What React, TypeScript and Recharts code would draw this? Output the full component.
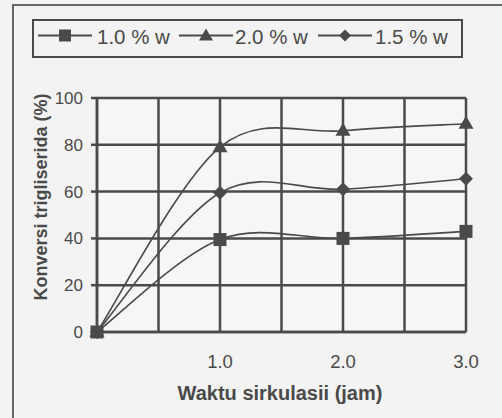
import React from 'react';
import { LineChart, Line, XAxis, YAxis, CartesianGrid, Legend, Label } from 'recharts';

const times = [0, 1, 2, 3];
const conv10 = [0, 39.5, 40, 43];
const conv20 = [0, 79, 86, 89];
const conv15 = [0, 59.5, 61, 65.5];
const seriesNames = ['1.0 % w', '2.0 % w', '1.5 % w'];
const xGridTicks = [0, 0.5, 1, 1.5, 2, 2.5, 3];
const xLabelTicks = [1, 2, 3];
const yTicks = [0, 20, 40, 60, 80, 100];

const data = times.map((t, i) => ({ t, a: conv10[i], b: conv20[i], c: conv15[i] }));

const INK = '#4a4a4a';
const FONT = '"Liberation Sans", Arial, sans-serif';

// Excel-like smoothed line (Catmull-Rom converted to Bezier)
function excelCurve(context: any) {
  let pts: number[][] = [];
  return {
    areaStart() {},
    areaEnd() {},
    lineStart() { pts = []; },
    point(x: number, y: number) { pts.push([+x, +y]); },
    lineEnd() {
      if (!pts.length) return;
      context.moveTo(pts[0][0], pts[0][1]);
      for (let i = 0; i < pts.length - 1; i++) {
        const p0 = pts[i - 1] || pts[i];
        const p1 = pts[i];
        const p2 = pts[i + 1];
        const p3 = pts[i + 2] || p2;
        context.bezierCurveTo(
          p1[0] + (p2[0] - p0[0]) / 6, p1[1] + (p2[1] - p0[1]) / 6,
          p2[0] - (p3[0] - p1[0]) / 6, p2[1] - (p3[1] - p1[1]) / 6,
          p2[0], p2[1]
        );
      }
    },
  };
}

const SquareDot = (p: any) => (
  <rect x={p.cx - 6.5} y={p.cy - 6.5} width={13} height={13} fill={INK} />
);
const TriDot = (p: any) => (
  <polygon points={`${p.cx},${p.cy - 8} ${p.cx - 7.5},${p.cy + 5} ${p.cx + 7.5},${p.cy + 5}`} fill={INK} />
);
const DiaDot = (p: any) => (
  <polygon points={`${p.cx},${p.cy - 7} ${p.cx + 7},${p.cy} ${p.cx},${p.cy + 7} ${p.cx - 7},${p.cy}`} fill={INK} />
);

const markers = [
  (cx: number, cy: number) => <rect x={cx - 6} y={cy - 6} width={12} height={12} fill={INK} />,
  (cx: number, cy: number) => <polygon points={`${cx},${cy - 7} ${cx - 7},${cy + 5} ${cx + 7},${cy + 5}`} fill={INK} />,
  (cx: number, cy: number) => <polygon points={`${cx},${cy - 6} ${cx + 6},${cy} ${cx},${cy + 6} ${cx - 6},${cy}`} fill={INK} />,
];
const legendLineX = [6, 147, 286];
const legendTextX = [65, 203, 343];

const LegendBox = () => (
  <svg width={431} height={39} style={{ display: 'block' }}>
    <rect x={1} y={1} width={429} height={37} fill="none" stroke={INK} strokeWidth={2} />
    {seriesNames.map((name, i) => {
      const x0 = legendLineX[i];
      return (
        <g key={name}>
          <line x1={x0} x2={x0 + 54} y1={16.5} y2={16.5} stroke={INK} strokeWidth={2} />
          {markers[i](x0 + 27, 16.5)}
          <text x={legendTextX[i]} y={17.5} dy="0.36em" fontSize={20.5} fill={INK} fontFamily={FONT}>{name}</text>
        </g>
      );
    })}
  </svg>
);

export default function App() {
  return (
    <div style={{ position: 'absolute', left: 0, top: 0, width: 502, height: 418, background: '#f3f3f3', overflow: 'hidden', fontFamily: FONT }}>
      <div style={{ position: 'absolute', left: 12, top: 4, width: 560, height: 500, border: `2px solid #666` }} />
      <div style={{ position: 'absolute', left: 0, top: 0 }}>
        <LineChart width={502} height={418} data={data} margin={{ top: 98, right: 36, left: 0, bottom: 0 }}>
          <CartesianGrid stroke={INK} strokeWidth={2.5} fill="#f6f6f6" />
          <XAxis
            dataKey="t"
            type="number"
            domain={[0, 3]}
            ticks={xGridTicks}
            height={86}
            tickSize={0}
            tickMargin={23}
            axisLine={{ stroke: INK, strokeWidth: 2.5 }}
            tick={{ fill: INK, fontSize: 18.5, fontFamily: FONT }}
            tickFormatter={(v: number) => (xLabelTicks.includes(v) ? v.toFixed(1) : '')}
          >
            <Label content={() => (
              <text x={280} y={400} textAnchor="middle" fontSize={20} fontWeight="bold" fill={INK} fontFamily={FONT}>Waktu sirkulasii (jam)</text>
            )} />
          </XAxis>
          <YAxis
            type="number"
            domain={[0, 100]}
            ticks={yTicks}
            width={97}
            tickSize={6}
            tickMargin={8}
            axisLine={{ stroke: INK, strokeWidth: 2.5 }}
            tickLine={{ stroke: INK, strokeWidth: 2.5 }}
            tick={{ fill: INK, fontSize: 17, fontFamily: FONT }}
          >
            <Label content={() => (
              <text x={41} y={197} dy="0.36em" transform="rotate(-90 41 197)" textAnchor="middle" fontSize={18} fontWeight="bold" fill={INK} fontFamily={FONT}>Konversi trigliserida (%)</text>
            )} />
          </YAxis>
          <Legend layout="vertical" align="center" verticalAlign="middle" content={() => <LegendBox />} wrapperStyle={{ position: 'absolute', top: 19, left: 32, width: 431, height: 39 }} />
          <Line dataKey="a" name={seriesNames[0]} type={excelCurve as any} stroke={INK} strokeWidth={1.6} dot={<SquareDot />} isAnimationActive={false} />
          <Line dataKey="b" name={seriesNames[1]} type={excelCurve as any} stroke={INK} strokeWidth={1.6} dot={<TriDot />} isAnimationActive={false} />
          <Line dataKey="c" name={seriesNames[2]} type={excelCurve as any} stroke={INK} strokeWidth={1.6} dot={<DiaDot />} isAnimationActive={false} />
        </LineChart>
      </div>
    </div>
  );
}
